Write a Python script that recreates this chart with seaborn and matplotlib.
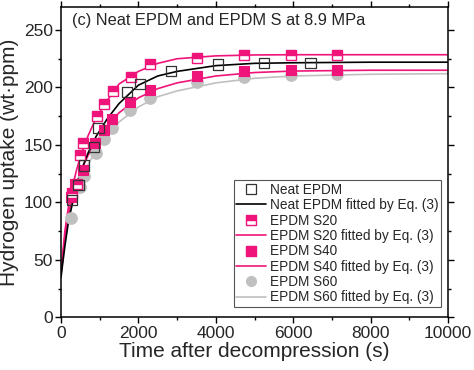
import numpy as np
import pandas as pd
import matplotlib
matplotlib.use("Agg")
import matplotlib.pyplot as plt
import seaborn as sns
from matplotlib.lines import Line2D

# measured points (time in s, uptake in wt.ppm)
t_neat = [280, 450, 600, 850, 970, 1700, 2050, 2850, 4050, 5250, 6450]
h_neat = [102, 115, 132, 148, 165, 196, 203, 214.6, 220, 221, 221]

t_s20 = [280, 410, 480, 580, 920, 1100, 1340, 1810, 2310, 3510, 4720, 5930, 7130]
h_s20 = [108, 116, 141, 152, 175, 186, 197, 209, 220, 226, 228, 228, 228]

t_s40 = [250, 370, 580, 890, 1100, 1320, 1790, 2290, 3510, 4720, 5930, 7130]
h_s40 = [105, 116, 128, 152, 163, 173, 187, 198, 210, 214, 215, 215]

t_s60 = [260, 480, 590, 910, 1100, 1320, 1790, 2290, 3510, 4720, 5930, 7130]
h_s60 = [86, 113, 123, 143, 155, 165, 180, 191, 205, 209, 211, 212]

# fitted curves
t_fit = [0, 100, 200, 300, 400, 500, 700, 900, 1200, 1500, 2000, 2500, 3000,
         4000, 5000, 6000, 8000, 10000]
fit_neat = [35, 62, 85, 100, 114, 126, 143, 157, 173, 186, 202, 210, 214,
            219, 221, 221.5, 222, 222]
fit_s20 = [40, 75, 98, 114, 128, 140, 158, 173, 189, 203, 214, 221, 225,
           227.5, 228.3, 228.5, 228.5, 228.5]
fit_s40 = [38, 70, 91, 105, 116, 126, 141, 152, 167, 178, 191, 199, 204,
           210, 213, 214.3, 215, 215]
fit_s60 = [36, 66, 86, 99, 110, 119, 133, 145, 159, 170, 183, 192, 197,
           204, 208, 210, 211.5, 212]

pink = "#ee1479"
grey = "#c0c0c0"

sns.set_style("ticks")
plt.rcParams["font.family"] = ["Liberation Sans", "DejaVu Sans"]

fig = plt.figure(figsize=(4.74, 3.70), dpi=100)
ax = fig.add_axes([0.1287, 0.1424, 0.8165, 0.8386])

# fitted lines
sns.lineplot(x=t_fit, y=fit_s60, ax=ax, color=grey, lw=1.2, sort=False)
sns.lineplot(x=t_fit, y=fit_s40, ax=ax, color=pink, lw=1.2, sort=False)
sns.lineplot(x=t_fit, y=fit_s20, ax=ax, color=pink, lw=1.2, sort=False)
sns.lineplot(x=t_fit, y=fit_neat, ax=ax, color="black", lw=1.2, sort=False)

# markers
sns.scatterplot(x=t_s60, y=h_s60, ax=ax, color=grey, marker="o", s=70,
                edgecolor=grey, linewidth=0.8, zorder=3)
sns.scatterplot(x=t_s40, y=h_s40, ax=ax, color=pink, marker="s", s=55,
                edgecolor=pink, linewidth=0.8, zorder=3)
ax.plot(t_s20, h_s20, ls="none", marker="s", ms=7.5, fillstyle="top",
        color=pink, markerfacecoloralt="white", mec=pink, mew=1, zorder=3)
sns.scatterplot(x=t_neat, y=h_neat, ax=ax, marker="s", s=55,
                facecolor="none", edgecolor="#333333", linewidth=0.9, zorder=4)

ax.set_xlim(0, 10000)
ax.set_ylim(0, 270)
ax.set_xticks(np.arange(0, 10001, 2000))
ax.set_xticks(np.arange(1000, 10000, 2000), minor=True)
ax.set_yticks(np.arange(0, 251, 50))
ax.set_yticks(np.arange(25, 270, 50), minor=True)
ax.tick_params(which="both", direction="out", top=True, right=True,
               labeltop=False, labelright=False, labelsize=12.5, width=1,
               color="black", pad=2)
ax.tick_params(which="major", length=4)
ax.tick_params(which="minor", length=2.5)
for sp in ax.spines.values():
    sp.set_linewidth(1.1)
    sp.set_color("black")

ax.set_xlabel("Time after decompression (s)", fontsize=15, labelpad=1)
ax.set_ylabel("Hydrogen uptake (wt\u00b7ppm)", fontsize=15, labelpad=3)
ax.text(0.028, 0.955, "(c) Neat EPDM and EPDM S at 8.9 MPa",
        transform=ax.transAxes, fontsize=11.8, va="center", ha="left")

handles = [
    Line2D([], [], ls="none", marker="s", ms=6.5, mfc="none", mec="#333333", mew=0.9),
    Line2D([], [], color="black", lw=1.2),
    Line2D([], [], ls="none", marker="s", ms=6.5, fillstyle="top", color=pink,
           markerfacecoloralt="white", mec=pink),
    Line2D([], [], color=pink, lw=1.2),
    Line2D([], [], ls="none", marker="s", ms=6.5, color=pink),
    Line2D([], [], color=pink, lw=1.2),
    Line2D([], [], ls="none", marker="o", ms=7, color=grey),
    Line2D([], [], color=grey, lw=1.2),
]
labels = ["Neat EPDM", "Neat EPDM fitted by Eq. (3)", "EPDM S20",
          "EPDM S20 fitted by Eq. (3)", "EPDM S40", "EPDM S40 fitted by Eq. (3)",
          "EPDM S60", "EPDM S60 fitted by Eq. (3)"]
leg = ax.legend(handles, labels, loc="lower right", bbox_to_anchor=(0.982, 0.033),
                fontsize=9.8, frameon=True, fancybox=False, edgecolor="#555555",
                framealpha=1, labelspacing=0.1, handlelength=2.2,
                handletextpad=0.25, borderpad=0.2, borderaxespad=0)
leg.get_frame().set_linewidth(0.8)

fig.savefig("out.png", dpi=100)
